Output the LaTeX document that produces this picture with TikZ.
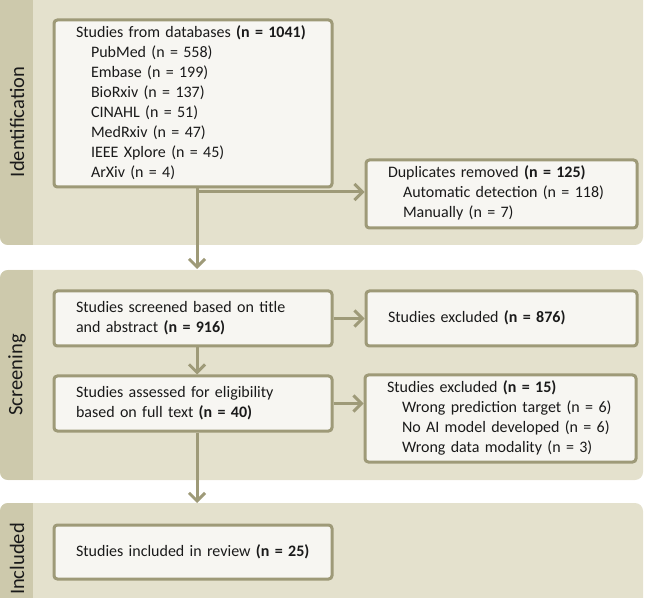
\documentclass[tikz,border=0pt]{standalone}
\usepackage{fontspec}
\setmainfont{Carlito}
\usetikzlibrary{arrows.meta}
\definecolor{bandc}{HTML}{E4E1CD}
\definecolor{stripc}{HTML}{CDC9AC}
\definecolor{boxfill}{HTML}{F7F6F2}
\definecolor{boxline}{HTML}{9E9A78}
\definecolor{txt}{HTML}{1A1A1A}
\newcommand\ind{\hspace*{11.25pt}}
\newcommand\blines[1]{\begin{tabular}{@{}l@{}}#1\end{tabular}}
\begin{document}
\begin{tikzpicture}[x=0.75pt,y=-0.75pt,
  box/.style={draw=boxline, fill=boxfill, line width=2.25pt, rounded corners=2.5pt,
    inner xsep=16.5pt, inner ysep=0pt, align=left, anchor=north west, text=txt,
    font=\fontsize{12}{15}\selectfont},
  lbox/.style={box, minimum width=208.5pt, text width=175.5pt},
  rbox/.style={box, minimum width=203.25pt, text width=170.25pt},
  bandshape/.style={rounded corners=6pt},
  lab/.style={rotate=90, font=\fontsize{15.4}{18}\selectfont, text=txt},
  arr/.style={draw=boxline, line width=2.25pt, -{Straight Barb[length=6pt,width=12pt]}}]
\clip (0,0) rectangle (653,598);
% bands
\foreach \ya/\yb in {-20/245, 270/480, 503/640}{
  \fill[bandc, bandshape] (0,\ya) rectangle (643,\yb);
  \begin{scope}
    \clip[bandshape] (0,\ya) rectangle (643,\yb);
    \fill[stripc] (0,\ya) rectangle (33,\yb);
  \end{scope}
}
\node[lab] (l1) at (17,122) {Identification};
\node[lab] (l2) at (17,375) {Screening};
\node[lab] (l3) at (17,559) {Included};
% boxes
\node[lbox, minimum height=125.25pt] (db) at (52.5,18.5) {\blines{Studies from databases \textbf{(n = 1041)}\\
\ind PubMed (n = 558)\\
\ind Embase (n = 199)\\
\ind BioRxiv (n = 137)\\
\ind CINAHL (n = 51)\\
\ind MedRxiv (n = 47)\\
\ind IEEE Xplore (n = 45)\\
\ind ArXiv (n = 4)}};
\node[rbox, minimum height=51pt] (dup) at (364.5,158.5) {\blines{Duplicates removed \textbf{(n = 125)}\\
\ind Automatic detection (n = 118)\\
\ind Manually (n = 7)}};
\node[lbox, minimum height=41.25pt] (scr) at (52.5,289.5) {\blines{Studies screened based on title\\and abstract \textbf{(n = 916)}}};
\node[rbox, minimum height=41.25pt] (ex1) at (364.5,289.5) {\blines{Studies excluded \textbf{(n = 876)}}};
\node[lbox, minimum height=41.25pt] (ass) at (52.5,374.5) {\blines{Studies assessed for eligibility\\based on full text \textbf{(n = 40)}}};
\node[rbox, minimum height=65.25pt] (ex2) at (363.5,373.5) {\blines{Studies excluded \textbf{(n = 15)}\\
\ind Wrong prediction target (n = 6)\\
\ind No AI model developed (n = 6)\\
\ind Wrong data modality (n = 3)}};
\node[lbox, minimum height=40.5pt] (inc) at (52.5,523.5) {\blines{Studies included in review \textbf{(n = 25)}}};
% connectors
\coordinate (ax) at (197,0);
\coordinate (br) at (197,192);
\coordinate (t1) at (197,269);
\coordinate (t2) at (197,503);
\draw[arr] (db.south -| ax) -- (t1);
\draw[arr] (br) -- (br -| dup.west);
\draw[arr] (scr.east) -- (ex1.west);
\draw[arr] (scr.south -| ax) -- (ass.north -| ax);
\draw[arr] (ass.east) -- (ass.east -| ex2.west);
\draw[arr] (ass.south -| ax) -- (t2);
\end{tikzpicture}
\end{document}
